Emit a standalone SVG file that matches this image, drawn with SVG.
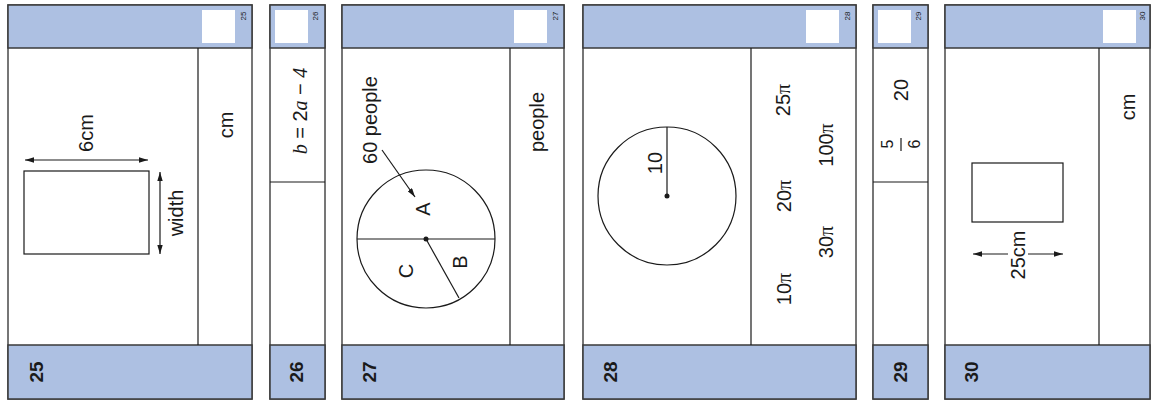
<svg xmlns="http://www.w3.org/2000/svg" width="1153" height="407" viewBox="0 0 1153 407">
<defs>
<style>
.frame{fill:#ffffff;stroke:#4a4a4a;stroke-width:1.5}
.hdr{fill:#adc0e2;stroke:#3a3a3a;stroke-width:1.5}
.box{fill:#ffffff;stroke:none}
.div{stroke:#1a1a1a;stroke-width:1.2;fill:none}
.ln{stroke:#1a1a1a;stroke-width:1.2;fill:none}
.arr{stroke:#1a1a1a;stroke-width:1.2;fill:none;marker-end:url(#ah)}
.dbl{stroke:#1a1a1a;stroke-width:1.2;fill:none;marker-start:url(#ah);marker-end:url(#ah)}
.t{font-family:"Liberation Sans",Arial,sans-serif;font-size:20px;fill:#1a1a1a;text-anchor:middle}
.lbl{font-family:"Liberation Sans",Arial,sans-serif;font-size:19px;font-weight:bold;fill:#1a1a1a;text-anchor:middle}
.sm{font-family:"Liberation Sans",Arial,sans-serif;font-size:8px;fill:#1a1a1a;text-anchor:middle}
.it{font-family:"Liberation Serif","Times New Roman",serif;font-style:italic}
.pi{font-family:"Liberation Serif","Times New Roman",serif}
.dot{fill:#1a1a1a}
</style>
<marker id="ah" viewBox="0 0 10 6" refX="10" refY="3" markerWidth="9" markerHeight="5.5" markerUnits="userSpaceOnUse" orient="auto-start-reverse">
<path d="M0,0 L10,3 L0,6 z" fill="#1a1a1a"/>
</marker>
</defs>
<rect width="1153" height="407" fill="#ffffff"/>

<g id="card25">
<rect class="frame" x="8" y="5" width="244" height="394"/>
<rect class="hdr" x="8" y="5" width="244" height="43"/>
<rect class="hdr" x="8" y="345" width="244" height="54"/>
<rect class="box" x="202" y="10" width="33" height="33"/>
<text class="sm" transform="translate(246,16) rotate(-90)">25</text>
<line class="div" x1="198" y1="48" x2="198" y2="345"/>
<rect class="ln" x="24" y="171" width="125" height="83"/>
<text class="t" transform="translate(93,133) rotate(-90)">6cm</text>
<text class="t" transform="translate(183,213) rotate(-90)">width</text>
<text class="t" transform="translate(233,125) rotate(-90)">cm</text>
<text class="lbl" transform="translate(43,372) rotate(-90)">25</text>
</g>

<g id="card26">
<rect class="frame" x="270" y="5" width="55" height="394"/>
<rect class="hdr" x="270" y="5" width="55" height="43"/>
<rect class="hdr" x="270" y="345" width="55" height="54"/>
<rect class="box" x="275" y="10" width="33" height="33"/>
<text class="sm" transform="translate(318,16) rotate(-90)">26</text>
<line class="div" x1="270" y1="182" x2="325" y2="182"/>
<text class="t" transform="translate(307,111) rotate(-90)"><tspan class="it">b</tspan> = 2<tspan class="it">a</tspan> − <tspan class="it">4</tspan></text>
<text class="lbl" transform="translate(303,372) rotate(-90)">26</text>
</g>

<g id="card27">
<rect class="frame" x="342" y="5" width="222" height="394"/>
<rect class="hdr" x="342" y="5" width="222" height="43"/>
<rect class="hdr" x="342" y="345" width="222" height="54"/>
<rect class="box" x="514" y="10" width="33" height="33"/>
<text class="sm" transform="translate(558,16) rotate(-90)">27</text>
<line class="div" x1="510" y1="48" x2="510" y2="345"/>
<circle class="ln" cx="426" cy="239" r="69"/>
<line class="ln" x1="357" y1="239" x2="495" y2="239"/>
<line class="ln" x1="426" y1="239" x2="459" y2="298"/>
<circle class="dot" cx="426" cy="239" r="2.5"/>
<text class="t" transform="translate(377,120) rotate(-90)">60 people</text>
<text class="t" transform="translate(430,209) rotate(-90)">A</text>
<text class="t" transform="translate(467,262) rotate(-90)">B</text>
<text class="t" transform="translate(413,271) rotate(-90)">C</text>
<text class="t" transform="translate(544,122) rotate(-90)">people</text>
<text class="lbl" transform="translate(376,372) rotate(-90)">27</text>
</g>

<g id="card28">
<rect class="frame" x="583" y="5" width="273" height="394"/>
<rect class="hdr" x="583" y="5" width="273" height="43"/>
<rect class="hdr" x="583" y="345" width="273" height="54"/>
<rect class="box" x="806" y="10" width="33" height="33"/>
<text class="sm" transform="translate(850,16) rotate(-90)">28</text>
<line class="div" x1="751" y1="48" x2="751" y2="345"/>
<circle class="ln" cx="667" cy="196" r="69"/>
<line class="ln" x1="667" y1="127" x2="667" y2="196"/>
<circle class="dot" cx="667" cy="196" r="2.5"/>
<text class="t" transform="translate(662,163) rotate(-90)">10</text>
<text class="t" transform="translate(790,100) rotate(-90)">25<tspan class="pi">π</tspan></text>
<text class="t" transform="translate(833,145) rotate(-90)">100<tspan class="pi">π</tspan></text>
<text class="t" transform="translate(791,196) rotate(-90)">20<tspan class="pi">π</tspan></text>
<text class="t" transform="translate(833,242) rotate(-90)">30<tspan class="pi">π</tspan></text>
<text class="t" transform="translate(791,289) rotate(-90)">10<tspan class="pi">π</tspan></text>
<text class="lbl" transform="translate(617,372) rotate(-90)">28</text>
</g>

<g id="card29">
<rect class="frame" x="873" y="5" width="55" height="394"/>
<rect class="hdr" x="873" y="5" width="55" height="43"/>
<rect class="hdr" x="873" y="345" width="55" height="54"/>
<rect class="box" x="878" y="10" width="33" height="33"/>
<text class="sm" transform="translate(921,16) rotate(-90)">29</text>
<line class="div" x1="873" y1="182" x2="928" y2="182"/>
<text class="t" transform="translate(908,90) rotate(-90)">20</text>
<text class="t" style="font-size:16px" transform="translate(893,144) rotate(-90)">5</text>
<line class="ln" x1="901" y1="138" x2="901" y2="151"/>
<text class="t" style="font-size:16px" transform="translate(920,144) rotate(-90)">6</text>
<text class="lbl" transform="translate(907,372) rotate(-90)">29</text>
</g>

<g id="card30">
<rect class="frame" x="945" y="5" width="205" height="394"/>
<rect class="hdr" x="945" y="5" width="205" height="43"/>
<rect class="hdr" x="945" y="345" width="205" height="54"/>
<rect class="box" x="1103" y="10" width="33" height="33"/>
<text class="sm" transform="translate(1145,16) rotate(-90)">30</text>
<line class="div" x1="1099" y1="48" x2="1099" y2="345"/>
<rect class="ln" x="972" y="163" width="91" height="59"/>
<text class="t" transform="translate(1025,255) rotate(-90)">25cm</text>
<text class="t" transform="translate(1135,107) rotate(-90)">cm</text>
<text class="lbl" transform="translate(978,372) rotate(-90)">30</text>
</g>

<g id="connectors">
<line class="dbl" x1="25" y1="160" x2="148" y2="160"/>
<line class="dbl" x1="160" y1="172" x2="160" y2="254"/>
<line class="arr" x1="382" y1="150" x2="415" y2="197"/>
<line class="arr" x1="1008" y1="254" x2="973" y2="254"/>
<line class="arr" x1="1028" y1="254" x2="1063" y2="254"/>
</g>
</svg>
